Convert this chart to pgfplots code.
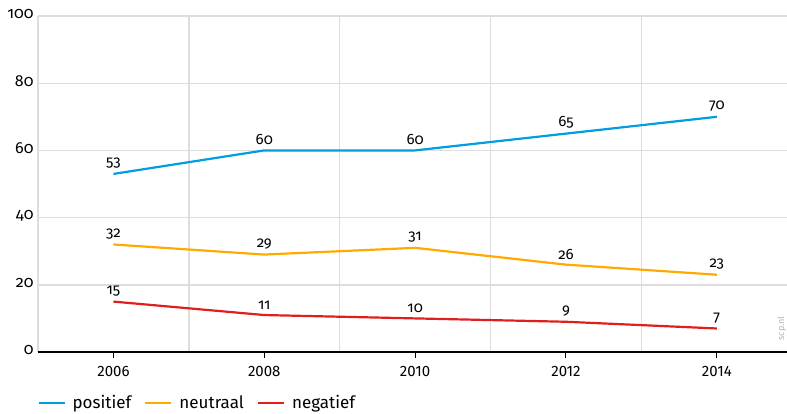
\documentclass[border=0pt]{standalone}
\usepackage{fontspec}
\setmainfont{Fira Sans}
\newfontfamily\osf[Numbers=OldStyle]{Fira Sans}
\usepackage{pgfplots}
\pgfplotsset{compat=1.18}
\definecolor{cblue}{RGB}{0,158,224}
\definecolor{corange}{RGB}{255,170,0}
\definecolor{cred}{RGB}{225,30,30}
\definecolor{cgrid}{RGB}{221,221,221}
\begin{document}
\begin{tikzpicture}
\useasboundingbox (-38pt,-61pt) rectangle (749pt,352pt);
\begin{axis}[
  at={(0,0)}, anchor=south west,
  scale only axis, width=749pt, height=336pt,
  xmin=2005, xmax=2014.93, ymin=0, ymax=100,
  xtick={2006,2008,2010,2012,2014},
  xticklabels={2006,2008,2010,2012,2014},
  minor xtick={2007,2009,2011,2013},
  ytick={0,20,40,60,80,100},
  yticklabels={{\osf 0},{\osf 20},{\osf 40},{\osf 60},{\osf 80},{\osf 100}},
  yticklabel style={font=\fontsize{16}{16}\selectfont, xshift=-1pt, yshift=2pt},
  xticklabel style={font=\fontsize{15}{15}\selectfont, yshift=-5pt},
  ymajorgrids, xminorgrids,
  grid style={cgrid, line width=1.4pt},
  minor grid style={cgrid, line width=1.4pt},
  axis line style={draw=none},
  tick style={black, line width=1pt},
  xtick pos=bottom, ytick pos=left,
  major tick length=6pt,
  ytick style={draw=none},
  minor tick length=0pt,
  xtick align=outside,
  clip=false,
  legend style={at={(-0.005,-0.152)}, anchor=west, draw=none, fill=none,
    legend columns=3, font=\fontsize{17}{17}\selectfont,
    /tikz/every even column/.append style={column sep=6pt},
    nodes={inner xsep=7pt}},
  legend image code/.code={\draw[#1] (0pt,0pt) -- (26pt,0pt);},
  nodes near coords={\osf\pgfplotspointmeta},
  every node near coord/.append style={font=\fontsize{15}{15}\selectfont, black, yshift=1pt},
  point meta=explicit symbolic,
]
\draw[cgrid, line width=1.5pt] (rel axis cs:0,0) -- (rel axis cs:0,1);
\draw[black, line width=1.5pt] (rel axis cs:0,0) -- (rel axis cs:1,0);
\addplot[cblue, line width=2.2pt] coordinates {(2006,53)[53] (2008,60)[60] (2010,60)[60] (2012,65)[65] (2014,70)[70]};
\addplot[corange, line width=2.2pt] coordinates {(2006,32)[32] (2008,29)[29] (2010,31)[31] (2012,26)[26] (2014,23)[23]};
\addplot[cred, line width=2.2pt] coordinates {(2006,15)[15] (2008,11)[11] (2010,10)[10] (2012,9)[9] (2014,7)[7]};
\legend{positief, neutraal, negatief}
\node[rotate=90, font=\fontsize{9}{9}\selectfont, text=black!30, anchor=center] at (rel axis cs:0.993,0.07) {scp.nl};
\end{axis}
\end{tikzpicture}
\end{document}
